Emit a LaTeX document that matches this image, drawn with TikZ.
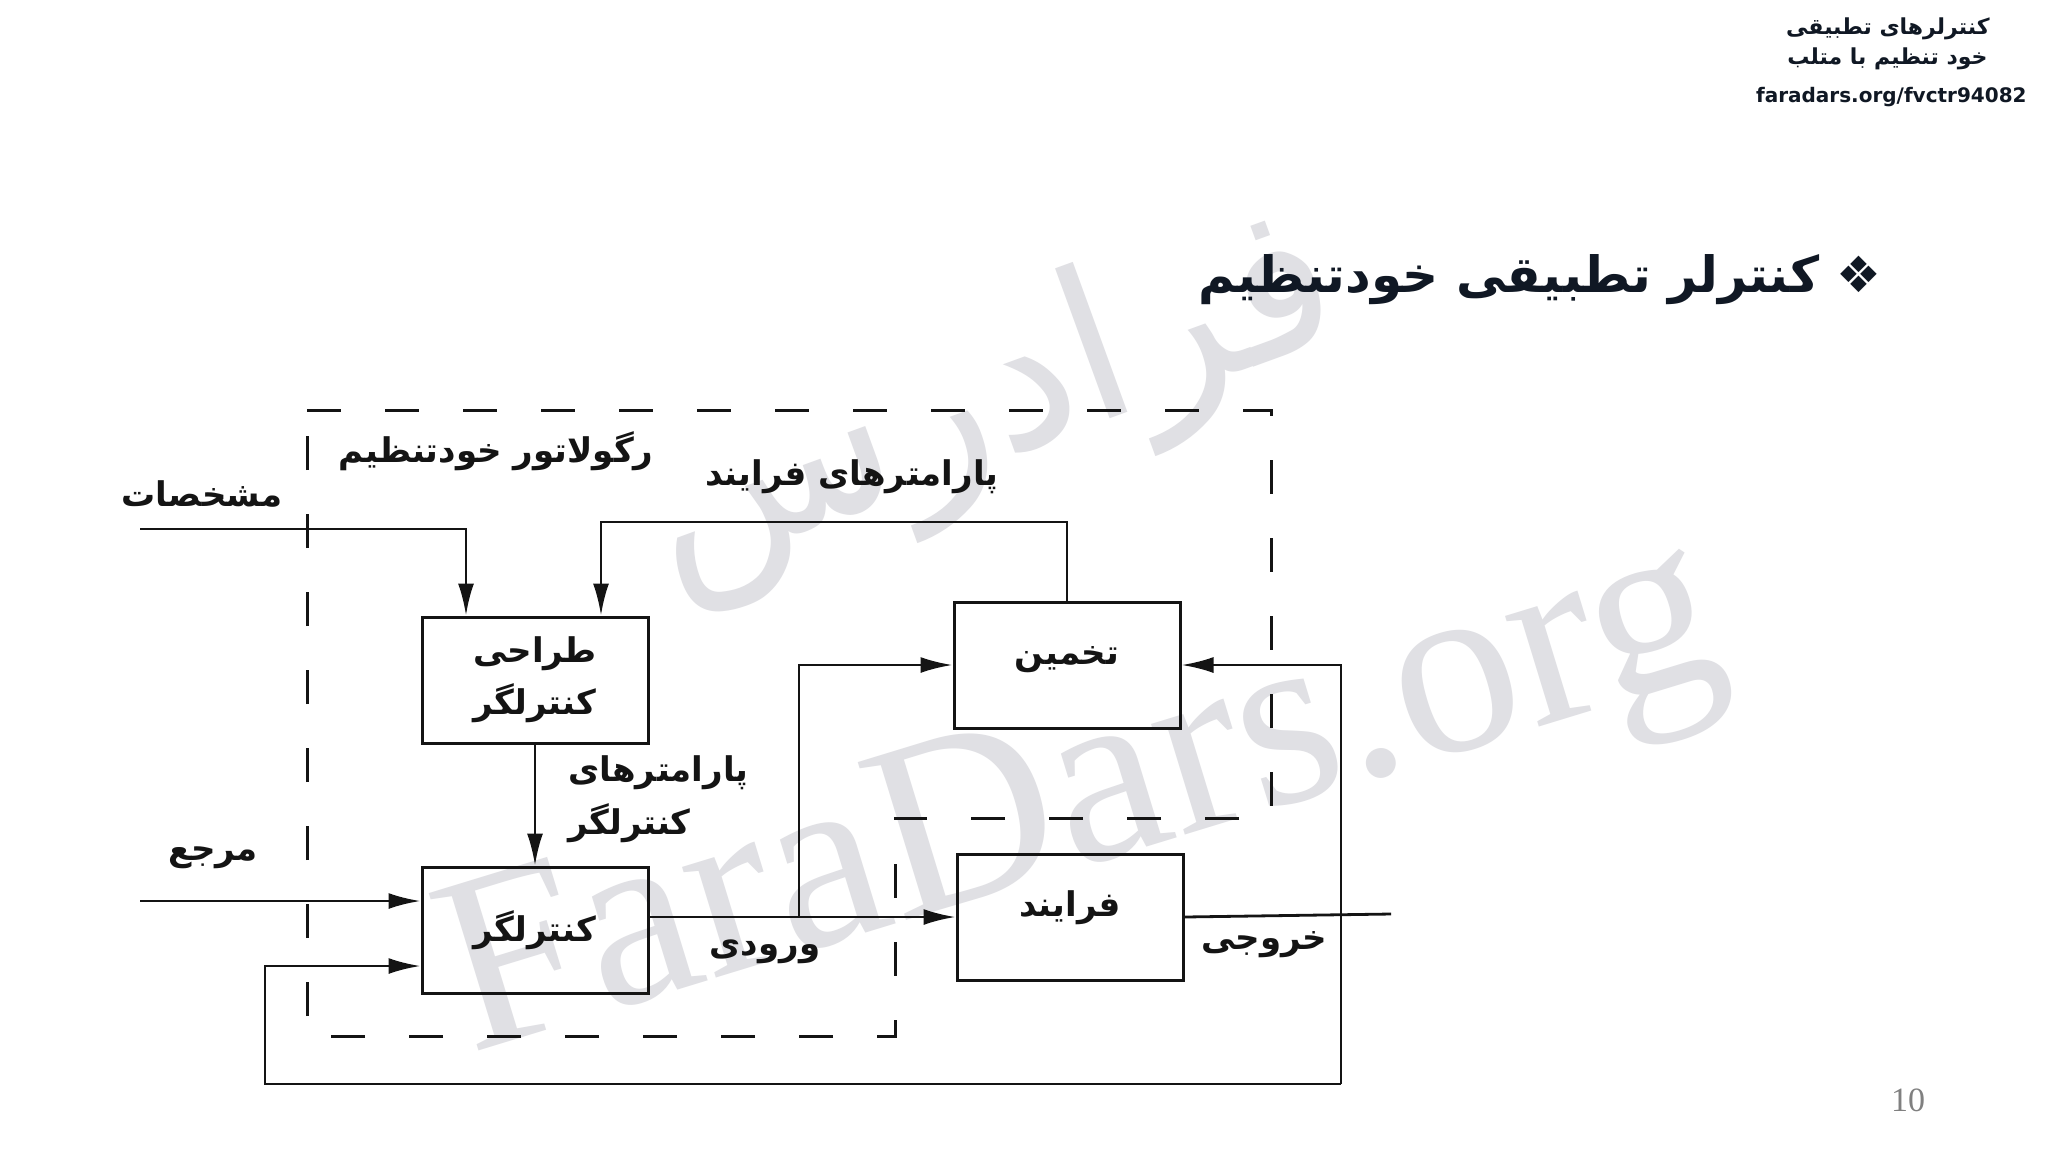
\documentclass[tikz,border=0pt]{standalone}
\usepackage{fontspec}
\usetikzlibrary{arrows.meta}
\TeXXeTstate=1
\newfontfamily\fa[Script=Arabic]{DejaVu Sans}
\newfontfamily\hdr{DejaVu Sans}
\newfontfamily\ser{Liberation Serif}
\definecolor{ink}{RGB}{20,20,20}
\definecolor{wm}{RGB}{224,224,228}
\definecolor{titlec}{RGB}{16,24,36}
\tikzset{
  blk/.style={draw=ink, line width=1.5pt, inner sep=0pt, minimum width=113pt, minimum height=63pt},
  lbl/.style={text=ink, font=\fa\bfseries\fontsize{17}{22}\selectfont, inner sep=0pt},
  conn/.style={draw=ink, line width=1.4pt},
  arr/.style={conn, -{Latex[length=16pt,width=8pt]}},
  bound/.style={draw=ink, line width=1.5pt, dash pattern=on 17pt off 22pt}
}
\begin{document}
\begin{tikzpicture}[x=0.5pt,y=-0.5pt]
\useasboundingbox (0,0) rectangle (2048,1152);
\fill[white] (0,0) rectangle (2048,1152);

% watermarks
\node[text=wm, rotate=20, font=\fa\fontsize{105}{120}\selectfont] (wm1) at (990,405) {\beginR فرادرس\endR};
\node[text=wm, rotate=17, font=\ser\fontsize{126}{140}\selectfont] (wm2) at (1085,808) {FaraDars.org};

% header
\node[anchor=east, text=titlec, font=\fa\bfseries\fontsize{11}{13}\selectfont, inner sep=0pt] (h1) at (1990,29) {\beginR کنترلرهای تطبیقی\endR};
\node[anchor=east, text=titlec, font=\fa\bfseries\fontsize{11}{13}\selectfont, inner sep=0pt] (h2) at (1988,59) {\beginR خود تنظیم با متلب\endR};
\node[anchor=east, text=titlec, font=\hdr\bfseries\fontsize{10}{13}\selectfont, inner sep=0pt] (h3) at (2027,97) {faradars.org/fvctr94082};

% title
\node[anchor=east, text=titlec, font=\fa\bfseries\fontsize{25}{30}\selectfont, inner sep=0pt] (title) at (1882,280) {\beginR ❖ کنترلر تطبیقی خودتنظیم\endR};

% page number
\node[text=gray, font=\ser\fontsize{17}{20}\selectfont, inner sep=0pt] (pg) at (1908,1100) {10};

% dashed boundary
\draw[bound] (307,410) -- (1271,410) -- (1271,818) -- (895,818) -- (895,1036) -- (307,1036) -- cycle;

% boxes
\node[blk] (design) at (535,680) {};
\node[lbl, align=center] (designt) at (535,680) {\beginR طراحی\endR\\[4pt]\beginR کنترلگر\endR};
\node[blk] (ctrl) at (535,930) {};
\node[lbl] (ctrlt) at (535,930) {\beginR کنترلگر\endR};
\node[blk] (est) at (1067,665) {};
\node[lbl] (estt) at (1067,660) {\beginR تخمین\endR};
\node[blk] (proc) at (1070,917) {};
\node[lbl] (proct) at (1070,908) {\beginR فرایند\endR};

% labels
\node[lbl] (lreg) at (496,451) {\beginR رگولاتور خودتنظیم\endR};
\node[lbl] (lspec) at (202,494) {\beginR مشخصات\endR};
\node[lbl] (lpp) at (852,477) {\beginR پارامترهای فرایند\endR};
\node[lbl, anchor=west] (lcp1) at (568,773) {\beginR پارامترهای\endR};
\node[lbl, anchor=west] (lcp2) at (568,823) {\beginR کنترلگر\endR};
\node[lbl] (lref) at (213,858) {\beginR مرجع\endR};
\node[lbl] (lin) at (765,952) {\beginR ورودی\endR};
\node[lbl] (lout) at (1264,945) {\beginR خروجی\endR};

% connectors
\coordinate (specin) at (140,529);
\coordinate (c1) at (466,529);
\draw[arr] (specin) -- (c1) -- (c1 |- design.north);

\coordinate (c2) at (601,522);
\draw[arr] (est.north) |- (c2) -- (c2 |- design.north);

\draw[arr] (design.south) -- (ctrl.north);

\coordinate (refin) at (140,901);
\draw[arr] (refin) -- (refin -| ctrl.west);

\draw[arr] (ctrl.east |- proc.west) -- (proc.west);
\coordinate (br) at (799,917);
\draw[arr] (br) |- (est.west);

\coordinate (out) at (1391,914);
\draw[conn] (proc.east) -- (out);

\coordinate (fb1) at (1341,1084);
\coordinate (fb2) at (265,1084);
\coordinate (fb3) at (265,966);
\draw[arr] (fb1) |- (est.east);
\draw[arr] (fb1) -- (fb2) -- (fb3) -- (fb3 -| ctrl.west);
\end{tikzpicture}
\end{document}
